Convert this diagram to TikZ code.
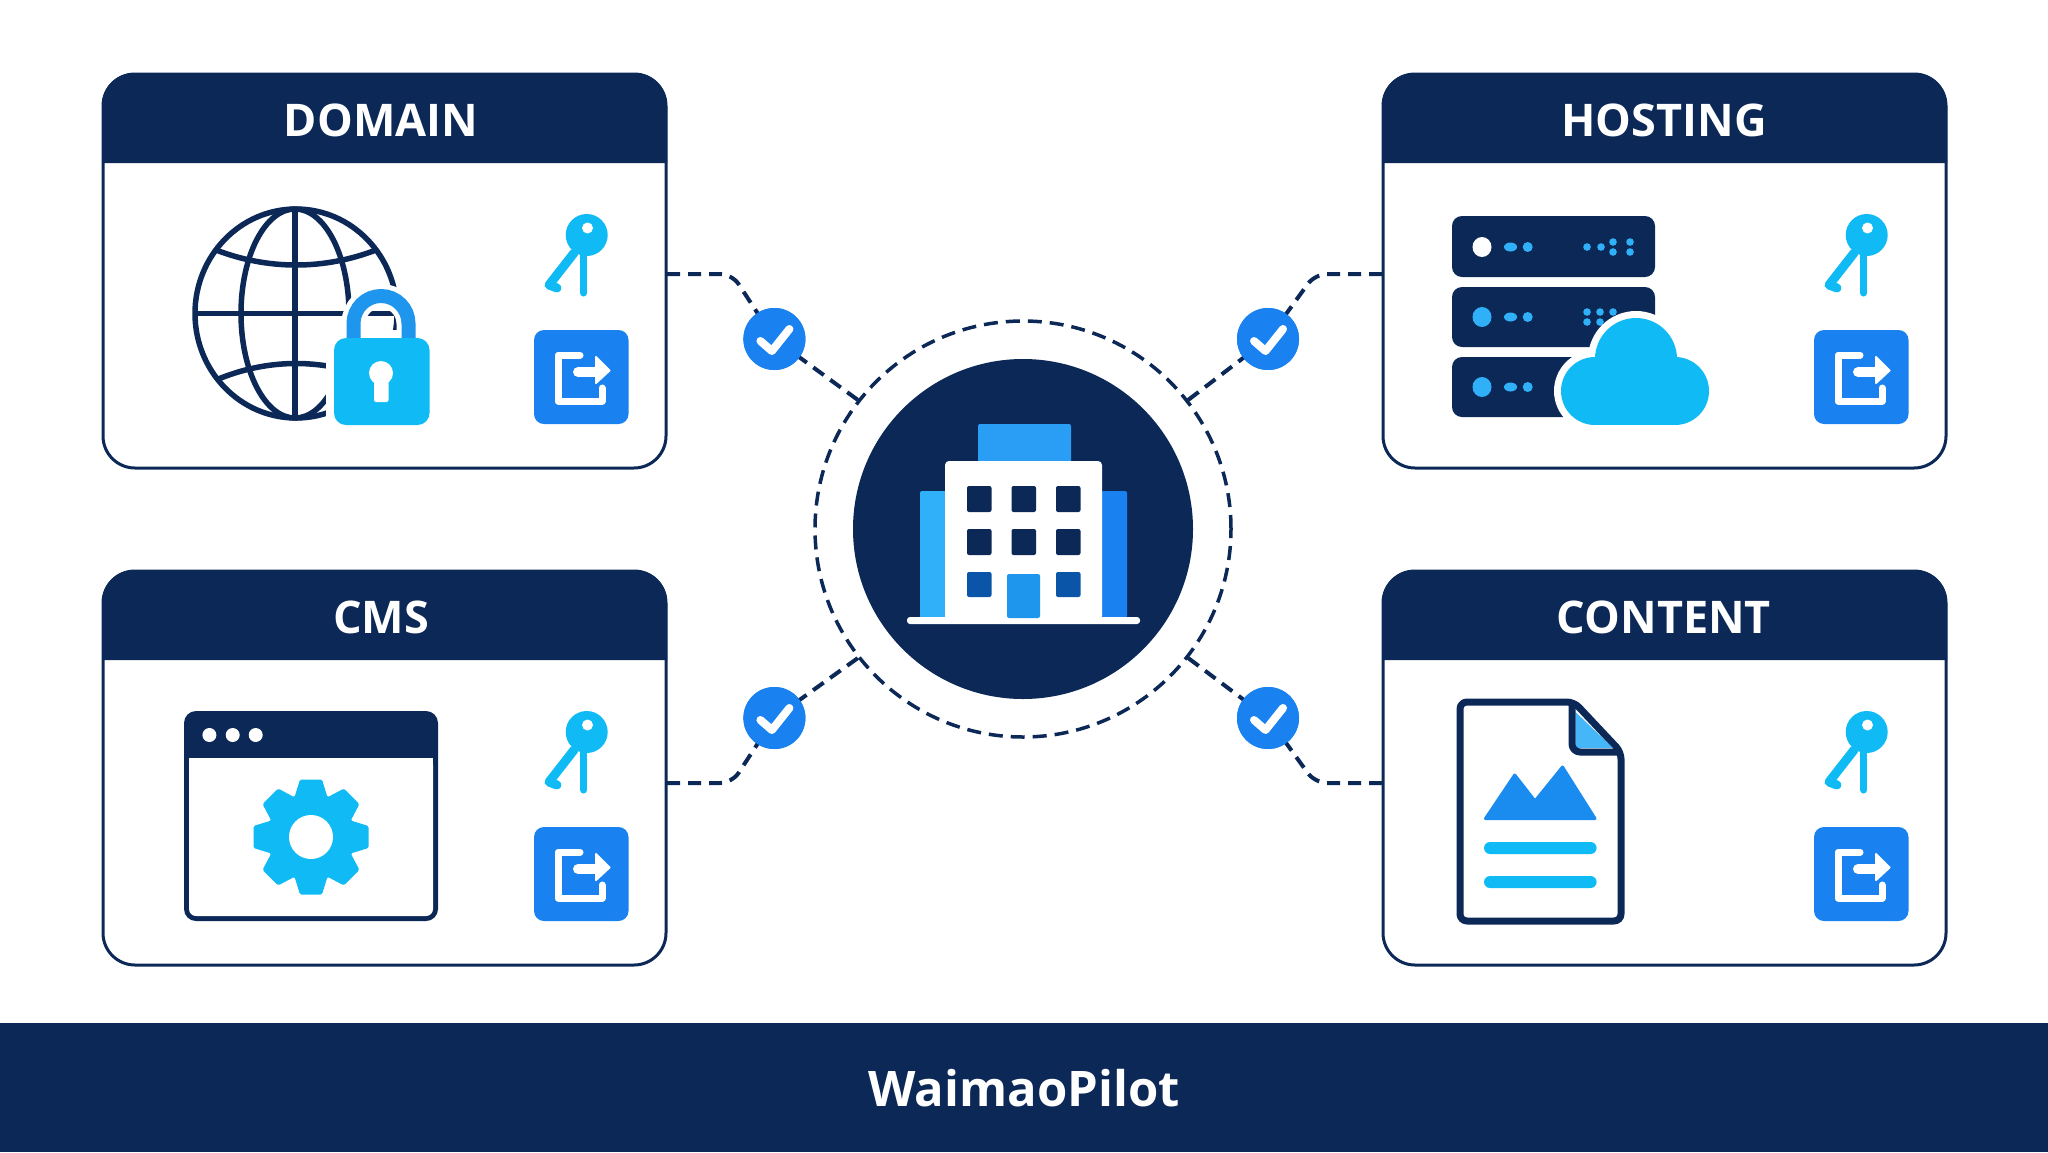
\documentclass[tikz,border=0pt]{standalone}
\usepackage{fontspec}
\setmainfont{Open Sans}
\definecolor{navy}{HTML}{0B2857}
\definecolor{azure}{HTML}{1A82F0}
\definecolor{cyanb}{HTML}{0FBAF5}
\definecolor{skyb}{HTML}{2FB0F8}
\definecolor{midb}{HTML}{1E96EE}
\definecolor{roofb}{HTML}{2A9DF4}
\definecolor{peakb}{HTML}{1A8CF0}
\definecolor{lowwin}{HTML}{0A55A8}
\definecolor{foldb}{HTML}{45B6F8}
\tikzset{
  x=1pt,y=-1pt,
  panelbox/.style={draw=navy,line width=3pt,fill=white,rounded corners=32pt,minimum width=563pt,minimum height=394pt,inner sep=0pt,outer sep=0pt,anchor=north west},
  paneltitle/.style={text=white,font=\fontsize{45}{50}\selectfont\bfseries,inner sep=0pt},
  conn/.style={draw=navy,line width=4pt,dash pattern=on 13pt off 8pt},
  badge/.style={circle,fill=azure,inner sep=0pt,minimum size=62pt},
  checkmark/.style={draw=white,line width=8pt,line join=round,line cap=round},
  navyline/.style={draw=navy,line join=round},
  ringnode/.style={circle,draw=navy,line width=3.5pt,dash pattern=on 14pt off 8pt,inner sep=0pt,minimum size=416pt},
  hubnode/.style={circle,fill=navy,inner sep=0pt,minimum size=340pt},
  footertext/.style={text=white,font=\fontsize{49}{55}\selectfont\bfseries,inner sep=0pt}
}
\newcommand{\cardframe}[4]{%
  \begin{scope}[shift={(#2)}]
    \node[panelbox] (#1) at (1,1) {};
    \fill[navy] (0,90) [rounded corners=32pt] -- (0,0) -- (565,0) [sharp corners] -- (565,90) -- cycle;
    \node[paneltitle] (#1title) at (#4,47) {#3};
    % key
    \fill[cyanb] (484.7,162) circle [radius=21];
    \fill[white] (485.5,155) circle [radius=5.5];
    \draw[cyanb,line width=7pt,line cap=round] (481.7,182) -- (481.7,220);
    \draw[cyanb,line width=9pt,line cap=round,line join=round] (472,180) -- (447,212) -- (455,215);
    % export box
    \fill[azure,rounded corners=10pt] (432,257) rectangle (526.5,351);
    \draw[white,line width=7pt,line join=round,line cap=round] (478,282) -- (456,282) -- (456,328) -- (500,328) -- (500,315);
    \draw[white,line width=10pt,line cap=round] (476,299) -- (495,299);
    \fill[white,draw=white,line width=2pt,line join=round] (494,284) -- (507.5,297.5) -- (494,310) -- cycle;
  \end{scope}}
\begin{document}
\begin{tikzpicture}
\useasboundingbox (0,0) rectangle (2048,1152);
\fill[white] (0,0) rectangle (2048,1152);

\cardframe{domain}{102,73}{DOMAIN}{279}
\cardframe{hosting}{1382,73}{HOSTING}{282}
\cardframe{cms}{102,570}{CMS}{279}
\cardframe{content}{1382,570}{CONTENT}{282}

% footer
\fill[navy] (0,1023) rectangle (2048,1152);
\node[footertext] (brand) at (1024,1088) {WaimaoPilot};

% domain: globe and lock
\begin{scope}[navyline,line width=5.5pt]
  \draw (296,313.5) ellipse [x radius=101,y radius=104.5];
  \draw (295,313.5) ellipse [x radius=54,y radius=104.5];
  \draw (295,209) -- (295,418);
  \draw (195,313.5) -- (397,313.5);
  \draw (216,250) .. controls (268,270) and (324,270) .. (376,250);
  \draw (216,380) .. controls (268,358) and (324,358) .. (376,380);
\end{scope}
\draw[white,line width=24pt] (353.5,345) -- (353.5,323.5) arc [start angle=180,end angle=360,x radius=27.5,y radius=27.5] -- (408.5,345);
\fill[white,rounded corners=16pt] (326,330) rectangle (437,433);
\draw[midb,line width=14pt] (353.5,345) -- (353.5,323.5) arc [start angle=180,end angle=360,x radius=27.5,y radius=27.5] -- (408.5,345);
\fill[cyanb,rounded corners=12pt] (334,338) rectangle (429.5,425);
\fill[white] (381,373) circle [radius=12];
\fill[white,rounded corners=2pt] (374,373) rectangle (388.5,402);

% hosting: server stack and cloud
\fill[navy,rounded corners=10pt] (1452,216) rectangle (1655,277);
\fill[navy,rounded corners=10pt] (1452,287) rectangle (1655,347);
\fill[navy,rounded corners=10pt] (1452,357) rectangle (1655,417);
\fill[white] (1482,247) ellipse [x radius=9.5,y radius=10];
\fill[skyb] (1482,317) ellipse [x radius=9.5,y radius=10];
\fill[skyb] (1482,387) ellipse [x radius=9.5,y radius=10];
\foreach \yy in {247,317,387}{
  \fill[skyb] (1510.5,\yy) ellipse [x radius=6.5,y radius=4.5];
  \fill[skyb] (1527.7,\yy) circle [radius=5];
}
\foreach \px/\py in {1587/247,1601/247,1613/242,1613/252,1630/242,1630/252,1587/312,1587/322,1600/312,1600/322,1613/312}{
  \fill[skyb] (\px,\py) circle [radius=3.8];
}
\begin{scope}[white]
  \fill (1636,359) circle [radius=48];
  \fill (1595,391) circle [radius=41];
  \fill (1675,391) circle [radius=41];
  \fill (1595,400) rectangle (1675,432);
\end{scope}
\begin{scope}[cyanb]
  \fill (1636,359) circle [radius=41];
  \fill (1595,391) circle [radius=34];
  \fill (1675,391) circle [radius=34];
  \fill (1595,391) rectangle (1675,425);
\end{scope}

% cms: browser and gear
\fill[navy,rounded corners=12pt] (184,711) rectangle (438,921);
\fill[white,rounded corners=7pt] (189,758) -- (433,758) -- (433,916) -- (189,916) -- cycle;
\fill[white] (189,758) rectangle (433,775);
\foreach \px in {209.4,232.7,255.7}{\fill[white] (\px,735) circle [radius=7];}
\begin{scope}[shift={(311,837)}]
  \fill[cyanb] (0,0) circle [radius=44];
  \foreach \a in {0,45,...,315}{
    \fill[cyanb,rotate=\a,rounded corners=1.5pt] (38,-17) -- (57.5,-11) -- (57.5,11) -- (38,17) -- cycle;
  }
  \fill[white] (0,0) circle [radius=22];
\end{scope}

% content: document
\draw[navy,line width=7pt,fill=white,line join=round,rounded corners=7pt] (1500,702) -- (1574,702) -- (1621,752) -- (1621,921) -- (1460,921) -- (1460,702) -- cycle;
\fill[foldb] (1575.5,712) -- (1575.5,748) -- (1613,748) -- cycle;
\draw[navy,line width=7pt,line join=round,rounded corners=8pt] (1572,705) -- (1572,752) -- (1619,752);
\fill[peakb,draw=peakb,line width=3pt,line join=round] (1485.5,818.5) -- (1514.7,775) -- (1535,801) -- (1562.5,767) -- (1595,818.5) -- cycle;
\fill[cyanb,rounded corners=6pt] (1484,842) rectangle (1596.6,854);
\fill[cyanb,rounded corners=6pt] (1484,876) rectangle (1596.6,888);

% centre
\node[ringnode] (ring) at (1023,529) {};
\node[hubnode] (hub) at (1023,529) {};
\fill[roofb,rounded corners=2pt] (978,424) rectangle (1071,465);
\fill[skyb,rounded corners=2pt] (920,491) rectangle (950,618);
\fill[azure,rounded corners=2pt] (1097,491) rectangle (1127,618);
\fill[white,rounded corners=4pt] (945,461) rectangle (1102,620);
\fill[white,rounded corners=3pt] (907,617) rectangle (1140,624);
\foreach \wy in {486,529}{
  \foreach \wx in {967,1011.5,1056}{
    \fill[navy,rounded corners=2pt] (\wx,\wy) rectangle ++(24.5,26);
  }
}
\fill[lowwin,rounded corners=2pt] (967,572) rectangle ++(24.5,25);
\fill[lowwin,rounded corners=2pt] (1056,572) rectangle ++(24.5,25);
\fill[midb,rounded corners=2pt] (1007,574) rectangle (1040,618);

% badges
\coordinate (domainport) at (667,274);
\coordinate (hostingport) at (1382,274);
\coordinate (cmsport) at (667,783);
\coordinate (contentport) at (1382,783);
\coordinate (kneeA) at (732,274);
\coordinate (kneeB) at (1315,274);
\coordinate (kneeC) at (732,783);
\coordinate (kneeD) at (1315,783);
\node[badge] (checkA) at (774.4,339) {};
\node[badge] (checkB) at (1268,339) {};
\node[badge] (checkC) at (774.4,718) {};
\node[badge] (checkD) at (1268,718) {};
\draw[conn,rounded corners=12pt] (domainport) -- (kneeA) -- (checkA.center);
\draw[conn,rounded corners=12pt] (hostingport) -- (kneeB) -- (checkB.center);
\draw[conn,rounded corners=12pt] (cmsport) -- (kneeC) -- (checkC.center);
\draw[conn,rounded corners=12pt] (contentport) -- (kneeD) -- (checkD.center);
\draw[conn] (ring.142) -- (checkA.center);
\draw[conn] (ring.38) -- (checkB.center);
\draw[conn] (ring.218) -- (checkC.center);
\draw[conn] (ring.322) -- (checkD.center);
\foreach \b in {checkA,checkB,checkC,checkD}{
  \node[badge] at (\b.center) {};
  \draw[checkmark] ([shift={(-14,2)}]\b.center) -- ([shift={(-2.5,12)}]\b.center) -- ([shift={(15,-10)}]\b.center);
}
\end{tikzpicture}
\end{document}
